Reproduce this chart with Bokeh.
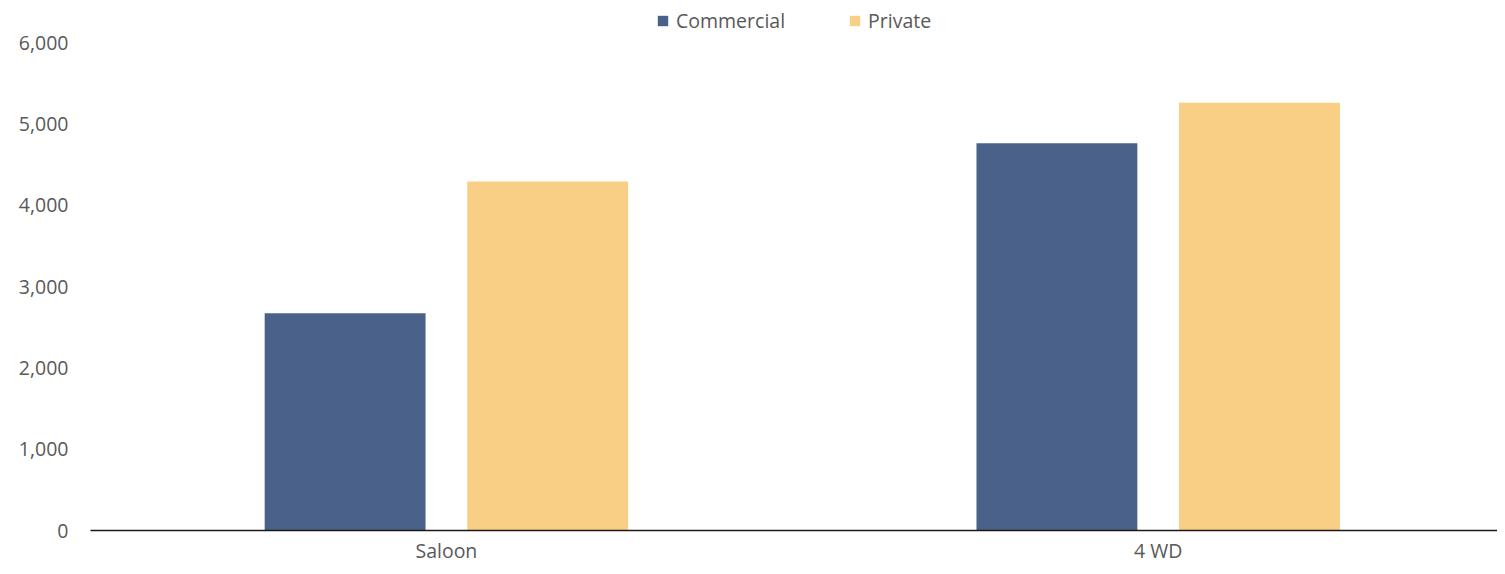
from bokeh.plotting import figure
from bokeh.models import Range1d, FixedTicker, NumeralTickFormatter, ColumnDataSource, Legend, LegendItem
from bokeh.embed import file_html
from bokeh.resources import INLINE

categories = ["Saloon", "4 WD"]
series = ["Commercial", "Private"]
commercial = [2670, 4760]
private = [4290, 5260]
y_ticks = [0, 1000, 2000, 3000, 4000, 5000, 6000]
colors = ["#4A6189", "#F9CF85"]

FONT = "Open Sans"
TXT = "#595959"
FS = "19.5px"

W, H = 1497, 566
LEFT = 90
BOTTOM = 36
frame_h = H - BOTTOM
px_per_unit = 711.8

centers = [i + 0.5 for i in range(len(categories))]
offset = 0.1423
bar_w = 0.226

p = figure(width=W, height=H, output_backend="svg", toolbar_location=None,
           x_range=Range1d(0, (W - LEFT) / px_per_unit),
           y_range=Range1d(0, 6000 * frame_h / 488),
           min_border_left=LEFT, min_border_right=0, min_border_top=0, min_border_bottom=BOTTOM)
p.outline_line_color = None
p.xgrid.grid_line_color = None
p.ygrid.grid_line_color = None
p.background_fill_color = "white"
p.border_fill_color = "white"

src_c = ColumnDataSource(dict(x=[c - offset for c in centers], top=commercial))
src_p = ColumnDataSource(dict(x=[c + offset for c in centers], top=private))
r1 = p.vbar(x="x", top="top", width=bar_w, source=src_c, fill_color=colors[0], line_color=None)
r2 = p.vbar(x="x", top="top", width=bar_w, source=src_p, fill_color=colors[1], line_color=None)

# y axis
ya = p.yaxis[0]
ya.ticker = FixedTicker(ticks=y_ticks)
ya.formatter = NumeralTickFormatter(format="0,0")
ya.axis_line_color = None
ya.major_tick_line_color = None
ya.minor_tick_line_color = None
ya.major_tick_out = 0
ya.major_tick_in = 0
ya.major_label_standoff = 22
ya.major_label_text_font = FONT
ya.major_label_text_font_size = FS
ya.major_label_text_color = TXT

# x axis
xa = p.xaxis[0]
xa.ticker = FixedTicker(ticks=centers)
xa.major_label_overrides = {c: name for c, name in zip(centers, categories)}
xa.axis_line_color = "#1a1a1a"
xa.axis_line_width = 1.5
xa.major_tick_line_color = None
xa.minor_tick_line_color = None
xa.major_tick_out = 0
xa.major_tick_in = 0
xa.major_label_standoff = 6
xa.major_label_text_font = FONT
xa.major_label_text_font_size = FS
xa.major_label_text_color = TXT

legend = Legend(items=[LegendItem(label=series[0], renderers=[r1]),
                       LegendItem(label=series[1], renderers=[r2])],
                orientation="horizontal", location=(566, frame_h - 34),
                glyph_width=13, glyph_height=13, label_standoff=7, spacing=63,
                padding=0, margin=0, border_line_color=None, background_fill_alpha=0,
                label_text_font=FONT, label_text_font_size=FS, label_text_color=TXT,
                label_height=13)
p.add_layout(legend, "center")

open("out.html", "w").write(file_html(p, INLINE))
